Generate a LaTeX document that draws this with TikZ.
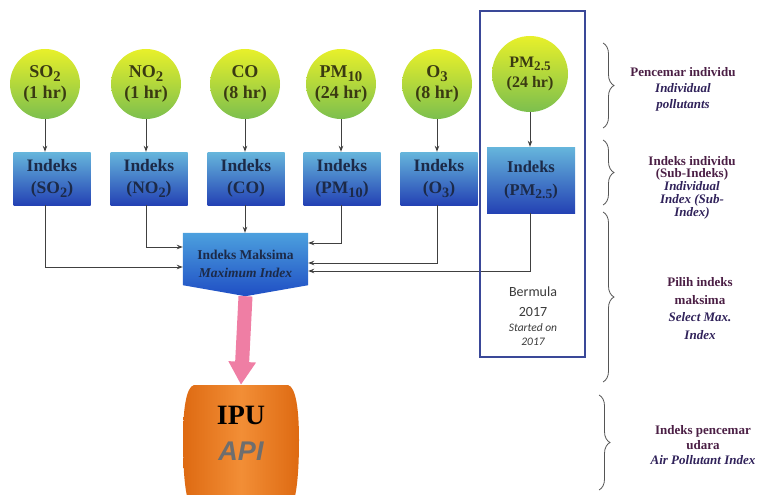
\documentclass[tikz,border=0pt]{standalone}
\usepackage{fontspec}
\usepackage{graphicx}
\setmainfont{Liberation Serif}
\newfontfamily\calib{Carlito}
\newfontfamily\arialf{Liberation Sans}
\usetikzlibrary{arrows.meta,decorations.pathreplacing,backgrounds,calc}

% lowered, slightly reduced subscript
\newcommand{\lowsub}[1]{\raisebox{-0.45ex}{\scalebox{0.82}{#1}}}

\definecolor{pollTop}{HTML}{E8F02A}
\definecolor{pollBot}{HTML}{7CBF4E}
\definecolor{pollText}{HTML}{3A3A12}
\definecolor{idxTop}{HTML}{66B6DC}
\definecolor{idxBot}{HTML}{2442B4}
\definecolor{idxText}{HTML}{1C2A48}
\definecolor{maxTop}{HTML}{4CA0DE}
\definecolor{maxBot}{HTML}{1F4EC4}
\definecolor{lineGray}{HTML}{404040}
\definecolor{frameBlue}{HTML}{3A4898}
\definecolor{arrPink}{HTML}{EF7EA4}
\definecolor{ipuEdge}{HTML}{DE6A12}
\definecolor{ipuMid}{HTML}{F28E36}
\definecolor{apiGray}{HTML}{6E6E6E}
\definecolor{noteBold}{HTML}{4B1F45}
\definecolor{noteItal}{HTML}{30225A}
\definecolor{braceGray}{HTML}{555555}
\definecolor{startText}{HTML}{3A3A3A}

\begin{document}
\begin{tikzpicture}[x=1pt,y=-1pt,
  pollut/.style={circle, minimum size=70pt, inner sep=0pt,
    top color=pollTop, bottom color=pollBot, text=pollText, align=center,
    font=\bfseries\fontsize{18}{21}\selectfont},
  idxbox/.style={rectangle, minimum width=77pt, minimum height=53pt, inner sep=0pt,
    top color=idxTop, bottom color=idxBot, text=idxText, align=center,
    font=\bfseries\fontsize{17.5}{22}\selectfont},
  conn/.style={draw=lineGray, line width=0.9pt, -{Stealth[length=6pt,width=4.5pt]}},
  note/.style={align=center, font=\bfseries\fontsize{13}{16}\selectfont},
  curly/.style={draw=braceGray, line width=0.8pt, decorate,
    decoration={brace, amplitude=11pt}}
]
\useasboundingbox (0,0) rectangle (776,495);

% pollutant circles
\node[pollut] (c1) at (45,84)  {SO\lowsub{2}\\(1 hr)};
\node[pollut] (c2) at (146,84) {NO\lowsub{2}\\(1 hr)};
\node[pollut] (c3) at (245,84) {CO\\(8 hr)};
\node[pollut] (c4) at (341,84) {PM\lowsub{10}\\(24 hr)};
\node[pollut] (c5) at (437,84) {O\lowsub{3}\\(8 hr)};
\node[pollut, minimum size=76pt, font=\bfseries\fontsize{16}{20}\selectfont]
  (c6) at (530,74) {PM\lowsub{2.5}\\(24 hr)};

% sub-index boxes
\node[idxbox] (b1) at (52,178.5)  {Indeks\\(SO\lowsub{2})};
\node[idxbox] (b2) at (149,178.5) {Indeks\\(NO\lowsub{2})};
\node[idxbox] (b3) at (246,178.5) {Indeks\\(CO)};
\node[idxbox] (b4) at (342,178.5) {Indeks\\(PM\lowsub{10})};
\node[idxbox] (b5) at (439,178.5) {Indeks\\(O\lowsub{3})};
\node[idxbox, minimum width=88pt, minimum height=66pt,
  font=\bfseries\fontsize{16.5}{23}\selectfont]
  (b6) at (531,180) {Indeks\\(PM\lowsub{2.5})};

% circle -> box arrows
\foreach \i in {1,...,6}
  \draw[conn] (c\i.south) -- (c\i.south |- b\i.north);

% maximum index block
\node[minimum width=125pt, minimum height=52pt, inner sep=0pt] (mx) at (245.5,259) {};
\coordinate (mxtip) at ([yshift=-11pt]mx.south);
\begin{pgfonlayer}{background}
  \shade[top color=maxTop, bottom color=maxBot]
    (mx.north west) -- (mx.north east) -- (mx.south east) -- (mxtip)
    -- (mx.south west) -- cycle;
\end{pgfonlayer}
\node[align=center, text=idxText, font=\bfseries\fontsize{13.5}{18}\selectfont]
  (mxt) at ([yshift=-5pt]mx.center) {Indeks Maksima\\\itshape Maximum Index};

% box -> maximum index connectors
\draw[conn] (b1.south -| c1.south) |- ([yshift=-8pt]mx.west);
\draw[conn] (b2.south -| c2.south) |- ([yshift=12pt]mx.west);
\draw[conn] (b3.south -| c3.south) -- (c3.south |- mx.north);
\draw[conn] (b4.south -| c4.south) |- ([yshift=16pt]mx.east);
\draw[conn] (b5.south -| c5.south) |- ([yshift=-4pt]mx.east);
\draw[conn] (b6.south -| c6.south) |- ([yshift=-12pt]mx.east);

% PM2.5 frame and note
\node[draw=frameBlue, line width=2.2pt, minimum width=105pt, minimum height=346pt,
  inner sep=0pt] (frame) at (532.5,184) {};
\node[align=center, text=startText, font=\calib\fontsize{14}{20}\selectfont]
  (berm) at (533,302) {Bermula\\2017};
\node[align=center, text=startText, font=\calib\itshape\fontsize{11.5}{14}\selectfont]
  (start) at (533,335) {Started on\\2017};

% air pollutant index barrel
\node[minimum width=116pt, minimum height=115pt, inner sep=0pt] (ipu) at (241,442.5) {};
\begin{pgfonlayer}{background}
  \shade[left color=ipuEdge, right color=ipuEdge, middle color=ipuMid]
    (194,385) -- (288,385)
    .. controls (296,387) and (299,410) .. (299,440)
    .. controls (299,470) and (297,490) .. (294,500)
    -- (188,500)
    .. controls (185,490) and (183,470) .. (183,440)
    .. controls (183,410) and (186,387) .. (194,385) -- cycle;
\end{pgfonlayer}
\node[font=\bfseries\fontsize{28}{30}\selectfont, text=black] (ipuT) at (241,415) {IPU};
\node[font=\arialf\bfseries\itshape\fontsize{27}{30}\selectfont, text=apiGray]
  (apiT) at (241,451) {API};

% thick pink arrow
\draw[draw=arrPink, line width=14pt, -{Triangle[width=26pt,length=23pt]}]
  (mxtip) -- (ipu.north);

% braces
\draw[curly] (603,43) -- (603,128);
\draw[curly] (603,140) -- (603,205);
\draw[curly] (603,212) -- (603,382);
\draw[curly] (599,395) -- (599,490);

% level descriptions
\node[note, font=\bfseries\fontsize{13}{16}\selectfont] (n1) at (683,89)
  {\textcolor{noteBold}{Pencemar individu}\\\textcolor{noteItal}{\itshape Individual}\\\textcolor{noteItal}{\itshape pollutants}};
\node[note, font=\bfseries\fontsize{13}{12.75}\selectfont] (n2) at (692,187.5)
  {\textcolor{noteBold}{Indeks individu}\\\textcolor{noteBold}{(Sub-Indeks)}\\\textcolor{noteItal}{\itshape Individual}\\\textcolor{noteItal}{\itshape Index (Sub-}\\\textcolor{noteItal}{\itshape Index)}};
\node[note, font=\bfseries\fontsize{13}{17.6}\selectfont] (n3) at (700,308.5)
  {\textcolor{noteBold}{Pilih indeks}\\\textcolor{noteBold}{maksima}\\\textcolor{noteItal}{\itshape Select Max.}\\\textcolor{noteItal}{\itshape Index}};
\node[note, font=\bfseries\fontsize{13}{15}\selectfont] (n4) at (703,445)
  {\textcolor{noteBold}{Indeks pencemar}\\\textcolor{noteBold}{udara}\\\textcolor{noteItal}{\itshape Air Pollutant Index}};
\end{tikzpicture}
\end{document}
